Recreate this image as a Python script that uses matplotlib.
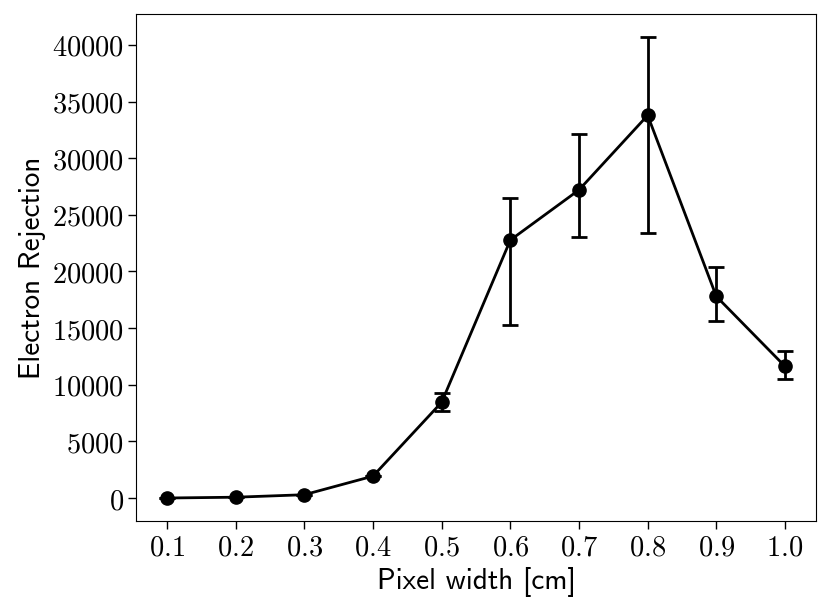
import os

import matplotlib
matplotlib.use("Agg")
import matplotlib.pyplot as plt
from matplotlib.font_manager import FontProperties
from matplotlib.ticker import FuncFormatter, MultipleLocator

plt.rcParams["mathtext.fontset"] = "cm"

# Values
pixel_width = [0.1, 0.2, 0.3, 0.4, 0.5, 0.6, 0.7, 0.8, 0.9, 1.0]
rejection = [10, 80, 300, 1940, 8460, 22770, 27200, 33780, 17800, 11630]
err_low = [0, 0, 0, 0, 730, 7470, 4170, 10340, 2200, 1150]
err_high = [0, 0, 0, 0, 830, 3700, 4900, 6900, 2590, 1380]

# Computer Modern Sans ships with matplotlib
sans = FontProperties(fname=os.path.join(matplotlib.get_data_path(), "fonts", "ttf", "cmss10.ttf"),
                      size=21)

fig = plt.figure(figsize=(8.3, 6.13), dpi=100)
ax = fig.add_axes([0.164, 0.150, 0.819, 0.827])

ax.errorbar(pixel_width, rejection, yerr=[err_low, err_high],
            color="black", marker="o", markersize=9.5, linewidth=2,
            elinewidth=2, capsize=5.5, capthick=2)

ax.set_xticks(pixel_width)
ax.yaxis.set_major_locator(MultipleLocator(5000))
ax.xaxis.set_major_formatter(FuncFormatter(lambda v, p: f"${v:.1f}$"))
ax.yaxis.set_major_formatter(FuncFormatter(lambda v, p: f"${v:.0f}$"))
ax.tick_params(labelsize=20.5, length=5.5, width=1)

ax.set_xlabel("Pixel width [cm]", fontproperties=sans)
ax.set_ylabel("Electron Rejection", fontproperties=sans)

fig.savefig("out.png", dpi=100)
